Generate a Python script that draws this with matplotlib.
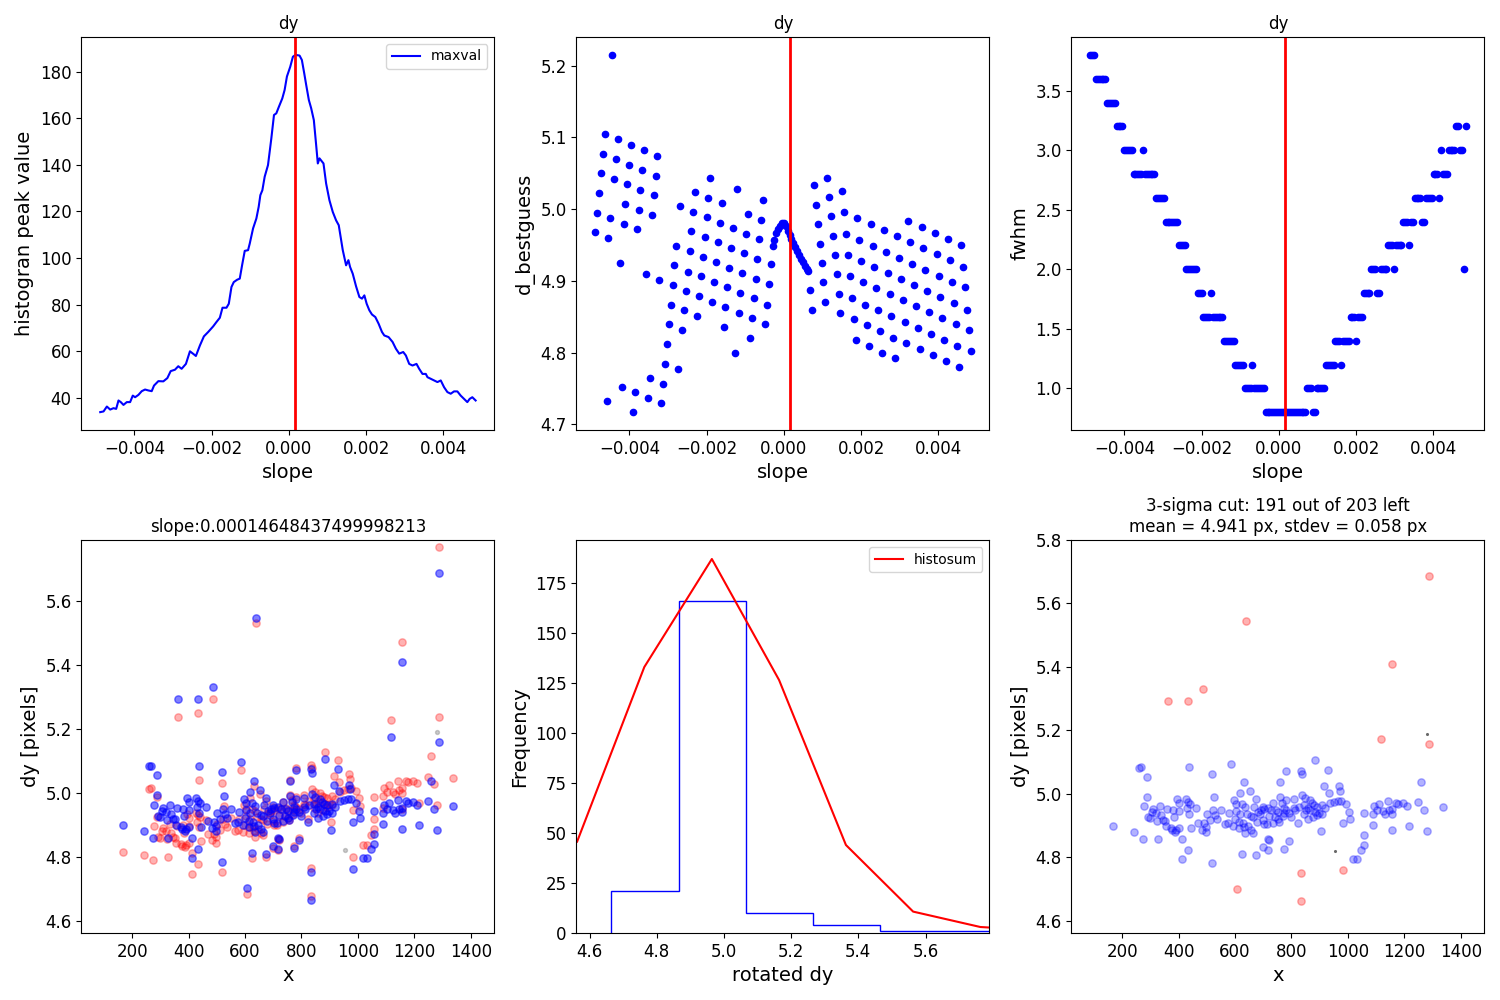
import numpy as np
import matplotlib
matplotlib.use("Agg")
import matplotlib.pyplot as plt

# ---------------- data ----------------
best_slope = 0.00014648437499998213
slope_title = "slope:0.00014648437499998213"
slope_step = 1.0 / 20480
slope_index = np.arange(-100, 100)

# top-left: histogram peak value vs slope
maxval_slope = [-0.004886, -0.004800, -0.004714, -0.004628, -0.004542, -0.004473, -0.004413, -0.004353,
                -0.004284, -0.004198, -0.004112, -0.004043, -0.003983, -0.003897, -0.003811, -0.003725,
                -0.003639, -0.003553, -0.003493, -0.003381, -0.003252, -0.003148, -0.003062, -0.002951,
                -0.002865, -0.002778, -0.002667, -0.002563, -0.002477, -0.002409, -0.002305, -0.002202,
                -0.002090, -0.001961, -0.001875, -0.001789, -0.001720, -0.001617, -0.001557, -0.001488,
                -0.001428, -0.001342, -0.001273, -0.001213, -0.001144, -0.001058, -0.001015, -0.000929,
                -0.000843, -0.000783, -0.000740, -0.000688, -0.000628, -0.000542, -0.000456, -0.000387,
                -0.000327, -0.000258, -0.000172, -0.000112, -0.000052, 0.000034, 0.000103, 0.000172,
                0.000275, 0.000335, 0.000396, 0.000447, 0.000516, 0.000576, 0.000645, 0.000705,
                0.000748, 0.000791, 0.000895, 0.000963, 0.001049, 0.001135, 0.001221, 0.001290,
                0.001394, 0.001480, 0.001540, 0.001583, 0.001652, 0.001738, 0.001824, 0.001892,
                0.001953, 0.002013, 0.002082, 0.002150, 0.002237, 0.002323, 0.002409, 0.002469,
                0.002580, 0.002684, 0.002770, 0.002856, 0.002959, 0.003028, 0.003114, 0.003200,
                0.003303, 0.003372, 0.003458, 0.003544, 0.003587, 0.003673, 0.003759, 0.003845,
                0.003931, 0.004017, 0.004103, 0.004189, 0.004275, 0.004361, 0.004447, 0.004533,
                0.004619, 0.004680, 0.004748, 0.004834]
maxval = [33.9, 34.2, 36.3, 35.0, 35.6, 35.3, 38.9, 38.2,
          37.0, 38.2, 38.2, 41.0, 40.3, 41.3, 42.9, 43.6,
          43.2, 42.9, 45.3, 47.2, 47.1, 48.5, 51.5, 52.1,
          53.6, 52.5, 54.6, 60.0, 58.9, 58.0, 62.5, 66.4,
          68.3, 70.7, 72.6, 74.4, 78.7, 78.7, 80.4, 87.6,
          89.7, 90.7, 91.2, 96.9, 103.1, 103.4, 106.2, 112.7,
          117.0, 122.0, 127.0, 129.1, 134.9, 139.9, 151.3, 161.4,
          162.1, 165.0, 168.5, 172.1, 177.9, 182.1, 186.4, 187.2,
          186.9, 185.0, 179.3, 174.3, 167.8, 164.3, 159.2, 148.5,
          140.6, 142.8, 140.6, 132.0, 124.8, 119.8, 116.2, 114.1,
          103.4, 96.9, 99.1, 96.2, 93.3, 87.9, 83.3, 82.6,
          84.0, 80.4, 77.6, 75.8, 74.7, 71.8, 68.3, 66.8,
          66.1, 64.0, 61.1, 59.0, 59.7, 58.2, 54.6, 53.9,
          54.6, 52.5, 50.3, 50.3, 48.9, 48.2, 47.5, 46.8,
          47.5, 44.6, 42.5, 41.8, 42.8, 42.8, 41.0, 39.6,
          38.2, 39.6, 40.3, 38.9]

# top-middle: d_bestguess for slope_index -100..99
d_bestguess = [4.968, 4.994, 5.022, 5.050, 5.077, 5.105, 4.732, 4.960, 4.987, 5.215,
               5.042, 5.070, 5.098, 4.925, 4.752, 4.979, 5.007, 5.035, 5.061, 5.089,
               4.717, 4.745, 4.972, 4.999, 5.027, 5.054, 5.082, 4.909, 4.737, 4.764,
               4.992, 5.020, 5.046, 5.074, 4.901, 4.730, 4.756, 4.784, 4.812, 4.840,
               4.866, 4.894, 4.922, 4.948, 4.777, 5.004, 4.831, 4.859, 4.886, 4.913,
               4.941, 4.969, 4.996, 5.024, 4.851, 4.879, 4.907, 4.933, 4.961, 4.989,
               5.015, 5.043, 4.870, 4.898, 4.926, 4.954, 4.980, 5.008, 4.835, 4.863,
               4.891, 4.918, 4.946, 4.973, 4.800, 5.028, 4.855, 4.883, 4.911, 4.939,
               4.965, 4.993, 4.820, 4.848, 4.876, 4.902, 4.930, 4.958, 4.985, 5.013,
               4.840, 4.867, 4.895, 4.923, 4.948, 4.957, 4.966, 4.972, 4.977, 4.980,
               4.980, 4.976, 4.970, 4.964, 4.958, 4.953, 4.947, 4.942, 4.936, 4.931,
               4.926, 4.921, 4.917, 4.914, 4.887, 4.860, 5.033, 5.006, 4.979, 4.951,
               4.925, 4.898, 4.870, 5.043, 5.017, 4.990, 4.962, 4.936, 4.909, 4.881,
               4.855, 5.025, 4.996, 4.965, 4.936, 4.907, 4.876, 4.847, 4.817, 4.987,
               4.957, 4.927, 4.898, 4.867, 4.838, 4.809, 4.979, 4.948, 4.919, 4.890,
               4.859, 4.830, 4.800, 4.971, 4.940, 4.911, 4.881, 4.851, 4.821, 4.792,
               4.962, 4.932, 4.902, 4.873, 4.842, 4.813, 4.983, 4.954, 4.923, 4.894,
               4.865, 4.834, 4.805, 4.975, 4.946, 4.915, 4.886, 4.856, 4.826, 4.796,
               4.967, 4.937, 4.907, 4.877, 4.848, 4.817, 4.788, 4.958, 4.929, 4.898,
               4.869, 4.840, 4.809, 4.780, 4.950, 4.920, 4.891, 4.860, 4.831, 4.802]

# top-right: fwhm for slope_index -100..99
fwhm = ([3.8] * 3 + [3.6] * 6 + [3.4] * 5 + [3.2] * 4 + [3.0] * 5 + [2.8] * 5 + [3.0] * 1 +
        [2.8] * 6 + [2.6] * 5 + [2.4] * 7 + [2.2] * 4 + [2.0] * 6 + [1.8] * 3 + [1.6] * 4 +
        [1.8] * 1 + [1.6] * 6 + [1.4] * 6 + [1.2] * 5 + [1.0] * 4 + [1.2] * 1 + [1.0] * 6 +
        [0.8] * 22 +
        [1.0] * 3 + [0.8] * 2 + [1.0] * 5 + [1.2] * 5 + [1.4] * 3 + [1.2] * 1 + [1.4] * 4 +
        [1.6] * 3 + [1.4] * 1 + [1.6] * 3 + [1.8] * 4 + [2.0] * 3 + [1.8] * 2 + [2.0] * 4 +
        [2.2] * 3 + [2.0] * 1 + [2.2] * 4 + [2.4] * 3 + [2.2] * 1 + [2.4] * 2 + [2.6] * 4 +
        [2.4] * 2 + [2.6] * 4 + [2.8] * 3 + [2.6] * 1 + [3.0] * 1 + [2.8] * 3 + [3.0] * 4 +
        [3.2] * 2 + [3.0] * 2 + [2.0] * 1 + [3.2] * 1)

# bottom: star positions x and rotated dy (kept by 3-sigma cut)
kept_x = [168, 242, 274, 259, 265, 288, 288, 278, 310, 304, 292, 300, 333, 336, 324, 345, 353, 359,
          327, 372, 378, 386, 355, 384, 395, 402, 402, 400, 392, 412, 433, 412, 437, 425, 433, 442,
          430, 460, 437, 444, 518, 525, 522, 500, 510, 529, 536, 489, 496, 483, 498, 518, 564, 576,
          585, 631, 617, 653, 598, 604, 624, 602, 637, 616, 641, 592, 614, 628, 613, 631, 637, 657,
          663, 623, 673, 673, 667, 681, 693, 702, 663, 679, 698, 704, 713, 690, 716, 728, 734, 716,
          719, 698, 716, 752, 740, 752, 755, 758, 760, 766, 775, 773, 781, 781, 780, 799, 822, 793,
          775, 808, 808, 814, 834, 836, 836, 848, 846, 852, 860, 846, 867, 872, 881, 867, 885, 875,
          891, 899, 885, 907, 910, 904, 917, 928, 920, 934, 938, 950, 964, 976, 970, 973, 993, 1005,
          1009, 981, 1017, 1261, 1056, 1088, 1094, 1111, 1105, 1123, 1132, 1141, 1147, 1156, 1158,
          1170, 1178, 1194, 1209, 1250, 1271, 1339, 1088, 1158, 1218, 1282, 1056, 1056, 1046, 1031,
          720, 745, 700, 790, 825, 860, 655, 645, 600, 580, 550, 470, 380, 320, 735, 770, 890]
kept_dy = [4.898, 4.879, 4.858, 5.082, 5.084, 5.054, 4.991, 4.962, 4.952, 4.944, 4.926, 4.923, 4.962,
           4.934, 4.915, 4.918, 4.916, 4.952, 4.858, 4.893, 4.886, 4.881, 4.899, 4.926, 4.983, 4.971,
           4.946, 4.893, 4.886, 4.858, 4.823, 4.794, 5.084, 4.983, 4.975, 4.967, 4.955, 4.955, 4.936,
           4.892, 5.063, 4.990, 4.949, 4.937, 4.918, 4.933, 4.921, 4.907, 4.897, 4.888, 4.879, 4.784,
           4.905, 4.907, 5.095, 5.037, 5.002, 5.009, 4.981, 4.968, 4.967, 4.947, 4.958, 4.937, 4.937,
           4.899, 4.912, 4.909, 4.892, 4.895, 4.876, 4.886, 4.878, 4.812, 4.807, 4.983, 4.960, 4.944,
           4.949, 4.952, 4.926, 4.912, 4.918, 4.905, 4.904, 4.937, 4.955, 4.949, 4.970, 4.858, 4.856,
           4.832, 4.823, 4.944, 4.928, 4.920, 4.913, 4.990, 5.037, 4.972, 4.955, 4.940, 4.948, 4.980,
           5.072, 4.927, 4.907, 4.851, 4.828, 4.983, 4.955, 4.949, 5.073, 5.062, 4.997, 4.987, 4.965,
           4.949, 4.955, 4.937, 4.981, 4.971, 4.965, 4.949, 5.106, 4.926, 4.934, 4.941, 4.944, 4.937,
           4.965, 4.884, 5.025, 5.075, 4.955, 5.004, 4.973, 4.976, 4.979, 4.979, 5.025, 5.010, 4.968,
           4.944, 4.920, 4.909, 4.796, 5.037, 4.941, 4.937, 4.962, 4.968, 4.949, 4.947, 4.937, 4.978,
           4.949, 4.952, 4.938, 4.973, 4.968, 4.970, 4.961, 4.975, 4.949, 4.958, 4.902, 4.886, 4.898,
           4.883, 4.871, 4.839, 4.823, 4.794,
           4.930, 4.950, 4.960, 4.940, 4.960, 4.920, 4.930, 4.900, 4.920, 4.940, 4.950, 4.910, 4.950,
           4.940, 4.910, 4.930, 4.960]
# rejected by the 3-sigma cut
cut_x = [363, 433, 486, 638, 1155, 1286, 1118, 1286, 833, 981, 607, 833]
cut_dy = [5.293, 5.293, 5.331, 5.546, 5.410, 5.688, 5.173, 5.157, 4.752, 4.762, 4.702, 4.664]
# extra (unmatched) points
gray_x = [1279, 954]
gray_dy = [5.19, 4.82]
x_center = 740  # rotation centre in x

# bottom-middle: histogram of rotated dy and summed histogram
hist_edges = [4.665, 4.865, 5.065, 5.265, 5.465, 5.665, 5.865]
hist_counts = [21, 166, 10, 4, 1, 1]
histosum_x = [4.563, 4.763, 4.964, 5.164, 5.363, 5.563, 5.763, 5.963]
histosum_y = [45.7, 133.0, 187.0, 126.5, 44.0, 10.7, 3.0, 1.0]

title_cut = "3-sigma cut: 191 out of 203 left\nmean = 4.941 px, stdev = 0.058 px"

# ---------------- figure ----------------
plt.rcParams['font.family'] = ['DejaVu Sans']
fig = plt.figure(figsize=(15, 10), dpi=100)
W, H = 0.2753, 0.393
lefts = [0.0543, 0.3843, 0.7143]
ax1 = fig.add_axes([lefts[0], 0.570, W, H])
ax2 = fig.add_axes([lefts[1], 0.570, W, H])
ax3 = fig.add_axes([lefts[2], 0.570, W, H])
ax4 = fig.add_axes([lefts[0], 0.067, W, H])
ax5 = fig.add_axes([lefts[1], 0.067, W, H])
ax6 = fig.add_axes([lefts[2], 0.067, W, H])

LAB = 14
TICK = 12
slopes = slope_index * slope_step

# top-left
ax1.plot(maxval_slope, maxval, color='blue', lw=1.5, label='maxval')
ax1.axvline(best_slope, color='red', lw=2)
ax1.set_title('dy', fontsize=12)
ax1.set_xlabel('slope', fontsize=LAB)
ax1.set_ylabel('histogran peak value', fontsize=LAB)
ax1.legend(loc='upper right', fontsize=10)

# top-middle
ax2.plot(slopes, d_bestguess, 'o', color='blue', ms=4.5)
ax2.axvline(best_slope, color='red', lw=2)
ax2.set_title('dy', fontsize=12)
ax2.set_xlabel('slope', fontsize=LAB)
ax2.set_ylabel('d_bestguess', fontsize=LAB)

# top-right
ax3.plot(slopes, fwhm, 'o', color='blue', ms=4.5)
ax3.axvline(best_slope, color='red', lw=2)
ax3.set_title('dy', fontsize=12)
ax3.set_xlabel('slope', fontsize=LAB)
ax3.set_ylabel('fwhm', fontsize=LAB)

for ax in (ax1, ax2, ax3):
    ax.set_xticks([-0.004, -0.002, 0.0, 0.002, 0.004])

# bottom-left
all_x = np.array(kept_x + cut_x, dtype=float)
all_rot = np.array(kept_dy + cut_dy, dtype=float)
all_raw = all_rot + best_slope * (all_x - x_center)
ax4.scatter(all_x, all_raw, s=28, color='red', alpha=0.3)
ax4.scatter(all_x, all_rot, s=28, color='blue', alpha=0.5)
ax4.scatter(gray_x, gray_dy, s=8, color='gray', alpha=0.4)
ax4.set_title(slope_title, fontsize=12)
ax4.set_xlabel('x', fontsize=LAB)
ax4.set_ylabel('dy [pixels]', fontsize=LAB)
ax4.set_xlim(20, 1484)
ax4.set_ylim(4.561, 5.79)
ax4.set_xticks([200, 400, 600, 800, 1000, 1200, 1400])

# bottom-middle
ax5.stairs(hist_counts, hist_edges, color='blue', lw=1)
ax5.plot(histosum_x, histosum_y, color='red', lw=1.5, label='histosum')
ax5.set_xlim(4.561, 5.79)
ax5.set_ylim(0, 196.5)
ax5.set_xlabel('rotated dy', fontsize=LAB)
ax5.set_ylabel('Frequency', fontsize=LAB)
ax5.legend(loc='upper right', fontsize=10)

# bottom-right
ax6.scatter(kept_x, kept_dy, s=28, color='blue', alpha=0.3)
ax6.scatter(cut_x, cut_dy, s=28, color='red', alpha=0.3)
ax6.scatter(gray_x, gray_dy, s=1.5, color='dimgray')
ax6.set_title(title_cut, fontsize=12)
ax6.set_xlabel('x', fontsize=LAB)
ax6.set_ylabel('dy [pixels]', fontsize=LAB)
ax6.set_xlim(20, 1484)
ax6.set_ylim(4.562, 5.80)
ax6.set_xticks([200, 400, 600, 800, 1000, 1200, 1400])

for ax in (ax1, ax2, ax3, ax4, ax5, ax6):
    ax.tick_params(labelsize=TICK)

fig.savefig('out.png', dpi=100)
